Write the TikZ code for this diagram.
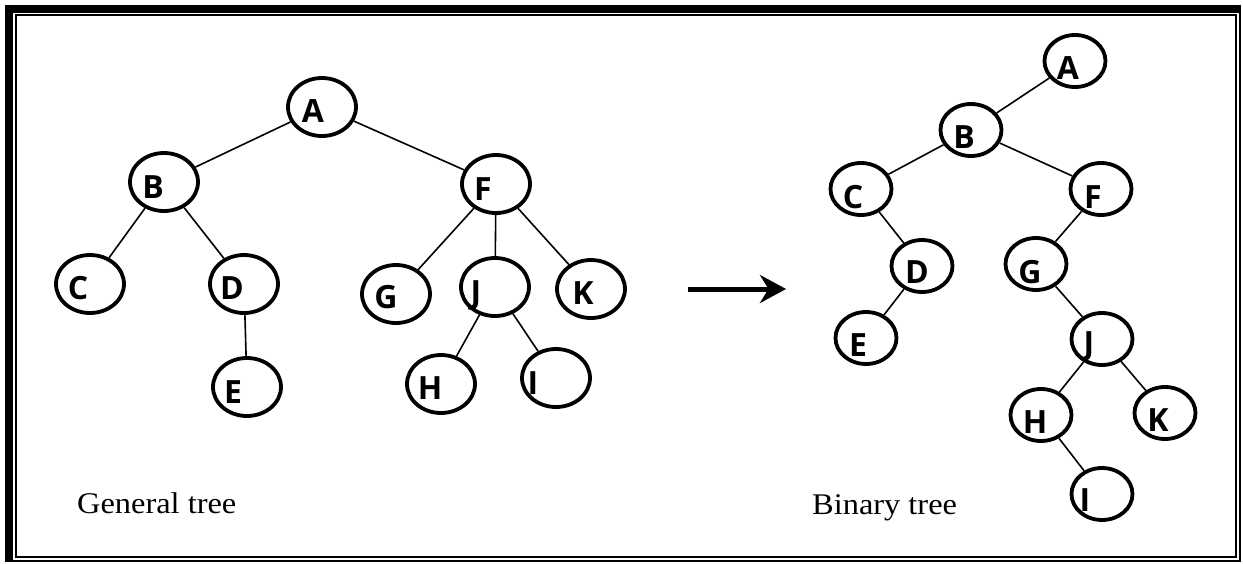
\documentclass[tikz,border=0pt]{standalone}
\usepackage{fontspec}
\setmainfont{Liberation Serif}
\newfontfamily\keyfont{Open Sans}
\newfontfamily\titlefont[FakeStretch=1.08]{Liberation Serif}
\usetikzlibrary{arrows.meta,shapes.geometric}

\begin{document}
\begin{tikzpicture}[x=1pt, y=-1pt,
  v/.style={draw, ellipse, line width=3.8pt, inner sep=0pt, minimum width=68pt, minimum height=58pt},
  vs/.style={v, minimum width=61pt, minimum height=52pt},
  lbl/.style={font=\keyfont\bfseries\fontsize{32}{32}\selectfont, inner sep=0pt, text height=22.8pt, text depth=0pt},
  edg/.style={line width=1.6pt},
  ttl/.style={font=\titlefont\fontsize{30}{30}\selectfont, inner sep=0pt, anchor=base west}]
\useasboundingbox (0,0) rectangle (1243,563);

% page frame
\fill (5,5) rectangle (1241,13);
\fill (5,5) rectangle (13,561);
\draw[line width=1.8pt] (6,6) rectangle (1240,561);
\draw[line width=2pt] (16,15) rectangle (1236,557);

% general tree
\foreach \k/\x/\y/\lx/\ly in {A/322/107/313/111, B/164/182/153/187, F/496/184/483/189,
    C/90/284/78/288, D/244/284/232/288, E/247/387/233/392, G/396/294/386/297,
    J/495/287/476/292, K/591/289/583/293, H/441/384/430/388, I/556/378/533/383} {
  \node[v] (g\k) at (\x,\y) {};
  \node[lbl] (gl\k) at (\lx,\ly) {\k};
}
\foreach \x/\y in {A/B,A/F,B/C,B/D,D/E,F/G,F/J,F/K,J/H,J/I} {\draw[edg] (g\x) -- (g\y);}
\node[ttl] (gttl) at (77,513) {General tree};

% arrow between the two trees
\coordinate (ar1) at (688,289);
\coordinate (ar2) at (786,289);
\draw[line width=5pt, -{Stealth[length=26pt, width=28pt]}] (ar1) -- (ar2);

% binary tree
\foreach \k/\x/\y/\lx/\ly in {A/1075/61/1068/68, B/971/130/964/137, C/861/189/853/197,
    F/1101/189/1093/197, D/922/266/917/272, G/1036/264/1030/272, E/866/338/858/345,
    J/1102/339/1089/343, H/1041/415/1035/422, K/1165/413/1158/420, I/1102/494/1085/500} {
  \node[vs] (b\k) at (\x,\y) {};
  \node[lbl] (bl\k) at (\lx,\ly) {\k};
}
\foreach \x/\y in {A/B,B/C,B/F,C/D,D/E,F/G,G/J,J/H,J/K,H/I} {\draw[edg] (b\x) -- (b\y);}
\node[ttl] (bttl) at (812,514) {Binary tree};
\end{tikzpicture}
\end{document}
